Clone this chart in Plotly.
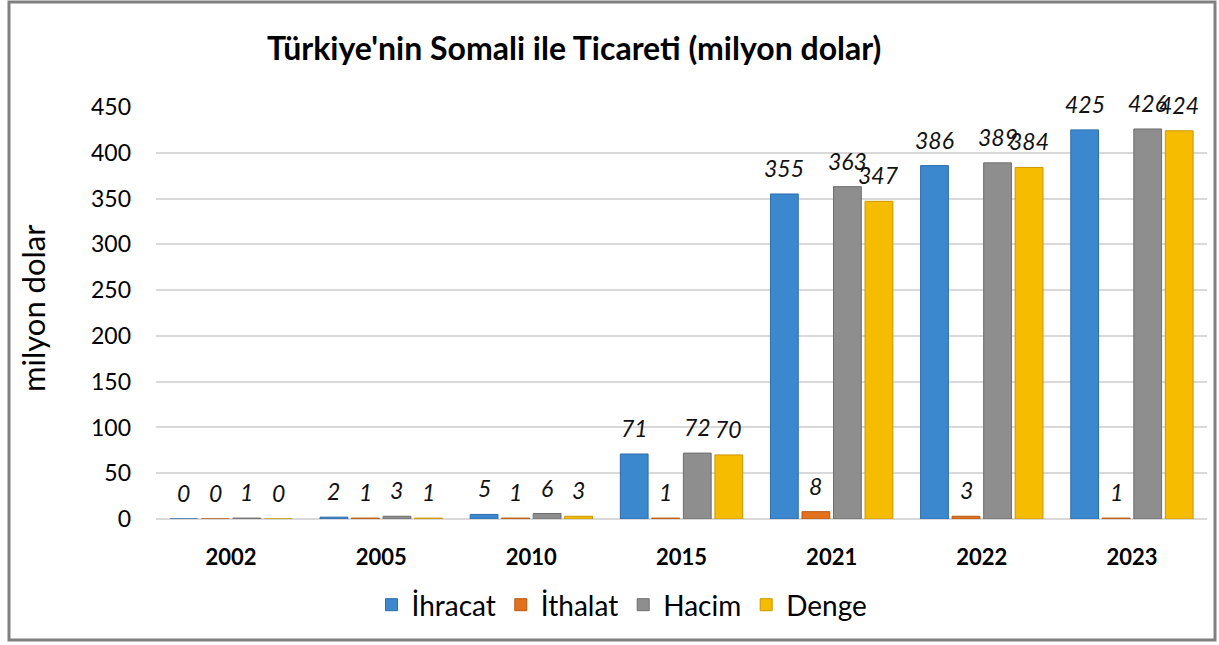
import plotly.graph_objects as go

years = ["2002", "2005", "2010", "2015", "2021", "2022", "2023"]
series_names = ["İhracat", "İthalat", "Hacim", "Denge"]
ihracat = [0, 2, 5, 71, 355, 386, 425]
ithalat = [0, 1, 1, 1, 8, 3, 1]
hacim = [1, 3, 6, 72, 363, 389, 426]
denge = [0, 1, 3, 70, 347, 384, 424]
y_ticks = [0, 50, 100, 150, 200, 250, 300, 350, 400, 450]

series_values = [ihracat, ithalat, hacim, denge]
colors = ["#3B88CF", "#E2711D", "#8E8E8E", "#F6BC00"]
line_colors = ["#2E6DA8", "#B85812", "#6E6E6E", "#C99600"]

W, H = 1219, 645
ML, MR, MT, MB = 156, 12, 107, 126
plot_w = W - ML - MR
plot_h = H - MT - MB

pitch = 0.21
bw = 0.185
first_off = -(3 * pitch + bw) / 2

FONT = "Lato, 'Open Sans', sans-serif"

fig = go.Figure()
annotations = []
for i, (name, vals) in enumerate(zip(series_names, series_values)):
    off = first_off + i * pitch
    fig.add_trace(go.Bar(
        name=name,
        x=list(range(len(years))),
        y=vals,
        offset=off,
        width=bw,
        marker=dict(color=colors[i], line=dict(color=line_colors[i], width=1)),
        showlegend=True,
    ))
    for j, v in enumerate(vals):
        annotations.append(dict(
            x=j + off + bw / 2, y=v, xref="x", yref="y",
            text="<i>" + str(v) + "</i>", showarrow=False, yanchor="middle", yshift=26,
            font=dict(family=FONT, size=23, color="#111111"),
        ))

px2x = lambda px: (px - ML) / plot_w
px2y = lambda py: (H - MB - py) / plot_h

annotations.append(dict(
    x=px2x(574), y=px2y(47), xref="paper", yref="paper",
    text="<b>Türkiye'nin Somali ile Ticareti (milyon dolar)</b>",
    showarrow=False, xanchor="center", yanchor="middle",
    font=dict(family=FONT, size=32, color="#000000"),
))
annotations.append(dict(
    x=px2x(33), y=px2y(308), xref="paper", yref="paper",
    text="milyon dolar", textangle=-90,
    showarrow=False, xanchor="center", yanchor="middle",
    font=dict(family=FONT, size=31, color="#000000"),
))

fig.update_layout(
    width=W, height=H,
    margin=dict(l=ML, r=MR, t=MT, b=MB),
    paper_bgcolor="white", plot_bgcolor="white",
    barmode="overlay",
    annotations=annotations,
    xaxis=dict(
        tickmode="array", tickvals=list(range(len(years))), ticktext=["<b>" + y + "</b>" for y in years],
        range=[-0.5, len(years) - 0.5],
        showgrid=False, zeroline=False, showline=False, ticks="",
        tickfont=dict(family=FONT, size=22, color="#000000"),
        ticklabelstandoff=23,
    ),
    yaxis=dict(
        range=[0, 450], tickvals=y_ticks,
        showgrid=True, gridcolor="#D9D9D9", gridwidth=2,
        zeroline=True, zerolinecolor="#D9D9D9", zerolinewidth=2,
        showline=False, ticks="",
        tickfont=dict(family=FONT, size=23, color="#000000"),
        ticklabelstandoff=24,
    ),
    legend=dict(
        orientation="h", x=px2x(622), y=px2y(605), xanchor="center", yanchor="middle",
        font=dict(family=FONT, size=28, color="#000000"),
        itemwidth=30, tracegroupgap=0,
    ),
    shapes=[dict(
        type="rect", xref="paper", yref="paper",
        x0=px2x(9), x1=px2x(1215), y0=px2y(640), y1=px2y(2),
        line=dict(color="#808080", width=3), fillcolor="rgba(0,0,0,0)", layer="below",
    )],
)

fig.write_html(
    "out.html",
    config={"displayModeBar": False},
    post_script="document.body.style.margin='0px';document.body.style.overflow='hidden';",
)
